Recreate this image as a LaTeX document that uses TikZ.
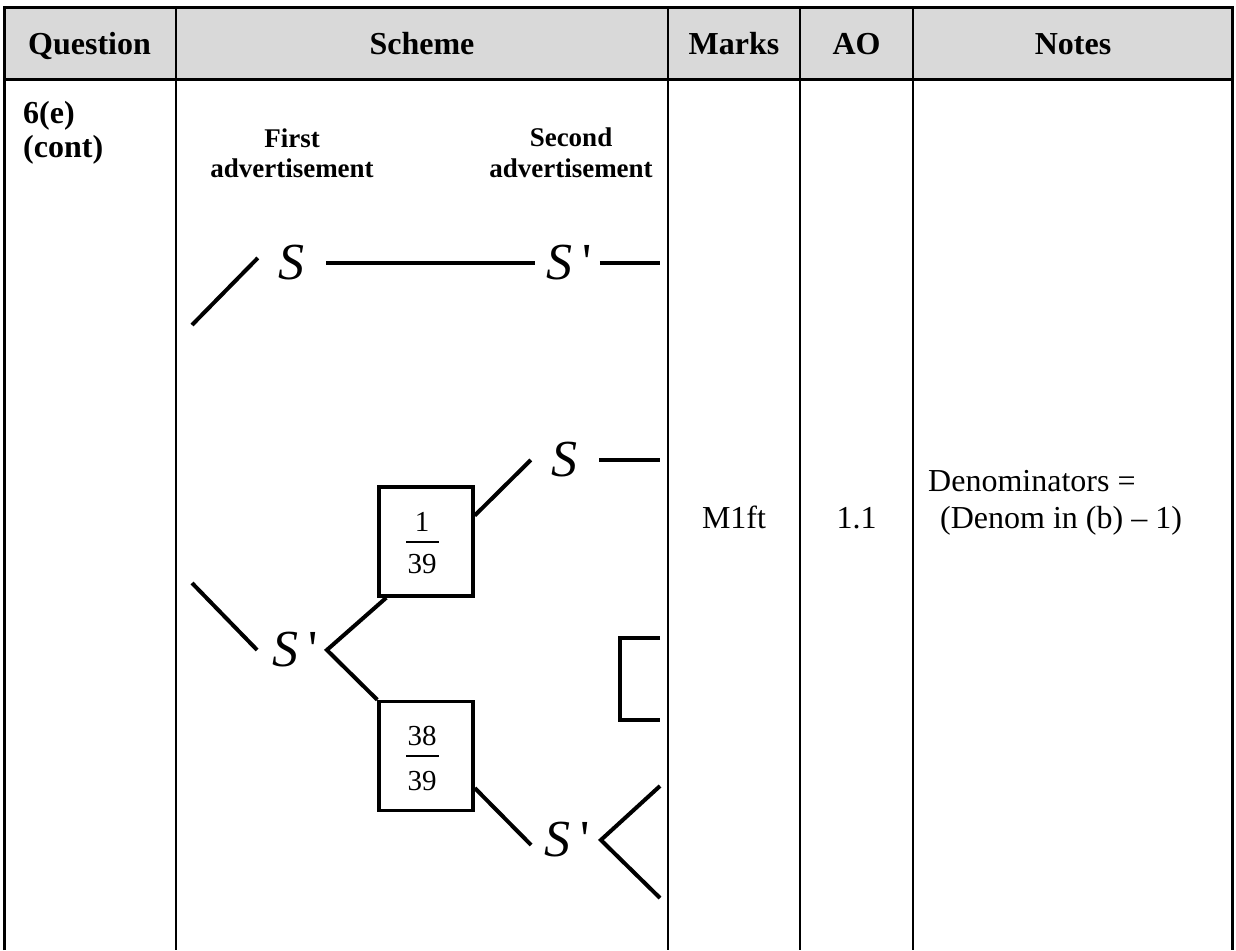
\documentclass[tikz,border=0pt]{standalone}
\usepackage{fontspec}
\setmainfont{Liberation Serif}
\definecolor{hdrgray}{HTML}{D9D9D9}
\begin{document}
\begin{tikzpicture}[x=1pt,y=-1pt,
  gridline/.style={line width=2pt},
  frameline/.style={line width=3pt},
  branch/.style={line width=4pt},
  hdr/.style={font=\fontsize{32}{38}\selectfont\bfseries, inner sep=0pt, anchor=base},
  body/.style={font=\fontsize{32}{38}\selectfont, inner sep=0pt, anchor=base},
  lbl/.style={font=\fontsize{27}{30}\selectfont\bfseries, inner sep=0pt, anchor=base},
  ev/.style={font=\fontsize{52}{52}\selectfont\itshape, inner sep=0pt},
  pbox/.style={draw, line width=3.5pt, minimum width=94pt, minimum height=109pt, inner sep=0pt},
  fr/.style={font=\fontsize{29}{32}\selectfont, inner sep=0pt, anchor=base}]
\useasboundingbox (0,0) rectangle (1236,950);
\fill[white] (0,0) rectangle (1236,950);
% header
\fill[hdrgray] (3,8) rectangle (1233,79);
\draw[gridline] (176,8) -- (176,950);
\draw[gridline] (668,8) -- (668,950);
\draw[gridline] (800,8) -- (800,950);
\draw[gridline] (913,8) -- (913,950);
\draw[frameline] (4,950) -- (4,8) -- (1232,8) -- (1232,950);
\draw[frameline] (3,79) -- (1233,79);
\node[hdr] (hq) at (89.5,55) {Question};
\node[hdr] (hs) at (422,55) {Scheme};
\node[hdr] (hm) at (734,55) {Marks};
\node[hdr] (ha) at (856.5,55) {AO};
\node[hdr] (hn) at (1073,55) {Notes};
% question
\node[hdr, anchor=base west] (q1) at (23,123) {6(e)};
\node[hdr, anchor=base west] (q2) at (23,157) {(cont)};
% tree headings
\node[lbl] (f1) at (292,147) {First};
\node[lbl] (f2) at (292,177) {advertisement};
\node[lbl] (g1) at (571,146) {Second};
\node[lbl] (g2) at (571,177) {advertisement};
% tree nodes
\node[ev] (S1) at (291,263) {S};
\node[ev] (S2p) at (569,263) {S\hspace{10pt}{\upshape\textquotesingle}};
\node[ev] (S1p) at (295,650) {S\hspace{10pt}{\upshape\textquotesingle}};
\node[ev] (S3) at (564,460) {S};
\node[ev] (S3p) at (567,840) {S\hspace{10pt}{\upshape\textquotesingle}};
\node[pbox] (B1) at (426,541.5) {};
\node[pbox] (B2) at (426,756) {};
\node[fr] (n1) at (422,531) {1};
\node[fr] (d1) at (422,573) {39};
\node[fr] (n2) at (422,745) {38};
\node[fr] (d2) at (422,790) {39};
\draw[line width=1.8pt] (406,542) -- (439,542);
\draw[line width=1.8pt] (406,756) -- (439,756);
% free ends
\coordinate (t0) at (192,325);
\coordinate (t1) at (192,583);
\coordinate (e1) at (660,263);
\coordinate (e2) at (660,460);
\coordinate (e3) at (660,786);
\coordinate (e4) at (660,898);
% connectors
\draw[branch] (t0) -- ([shift={(-20,-5)}]S1.west);
\draw[branch] ([xshift=22pt]S1.east) -- ([xshift=-11pt]S2p.west);
\draw[branch] ([xshift=8pt]S2p.east) -- (e1);
\draw[branch] (t1) -- ([xshift=-15pt]S1p.west);
\draw[branch] ([xshift=9pt]B1.south west) -- ([xshift=9pt]S1p.east) -- (B2.north west);
\draw[branch] ([yshift=26pt]B1.east) -- ([xshift=-20pt]S3.west);
\draw[branch] ([xshift=22pt]S3.east) -- (e2);
\draw[branch] ([yshift=-32pt]B2.east) -- ([shift={(-13pt,-5pt)}]S3p.west);
\draw[branch] (e3) -- ([xshift=11pt]S3p.east) -- (e4);
\draw[branch] (660,638) -- (620,638) -- (620,720) -- (660,720);
% other columns
\node[body] (mk) at (734,528) {M1ft};
\node[body] (ao) at (856.5,528) {1.1};
\node[body, anchor=base west] (nt1) at (928,491) {Denominators =};
\node[body, anchor=base west] (nt2) at (940,528) {(Denom in (b) – 1)};
\end{tikzpicture}
\end{document}
